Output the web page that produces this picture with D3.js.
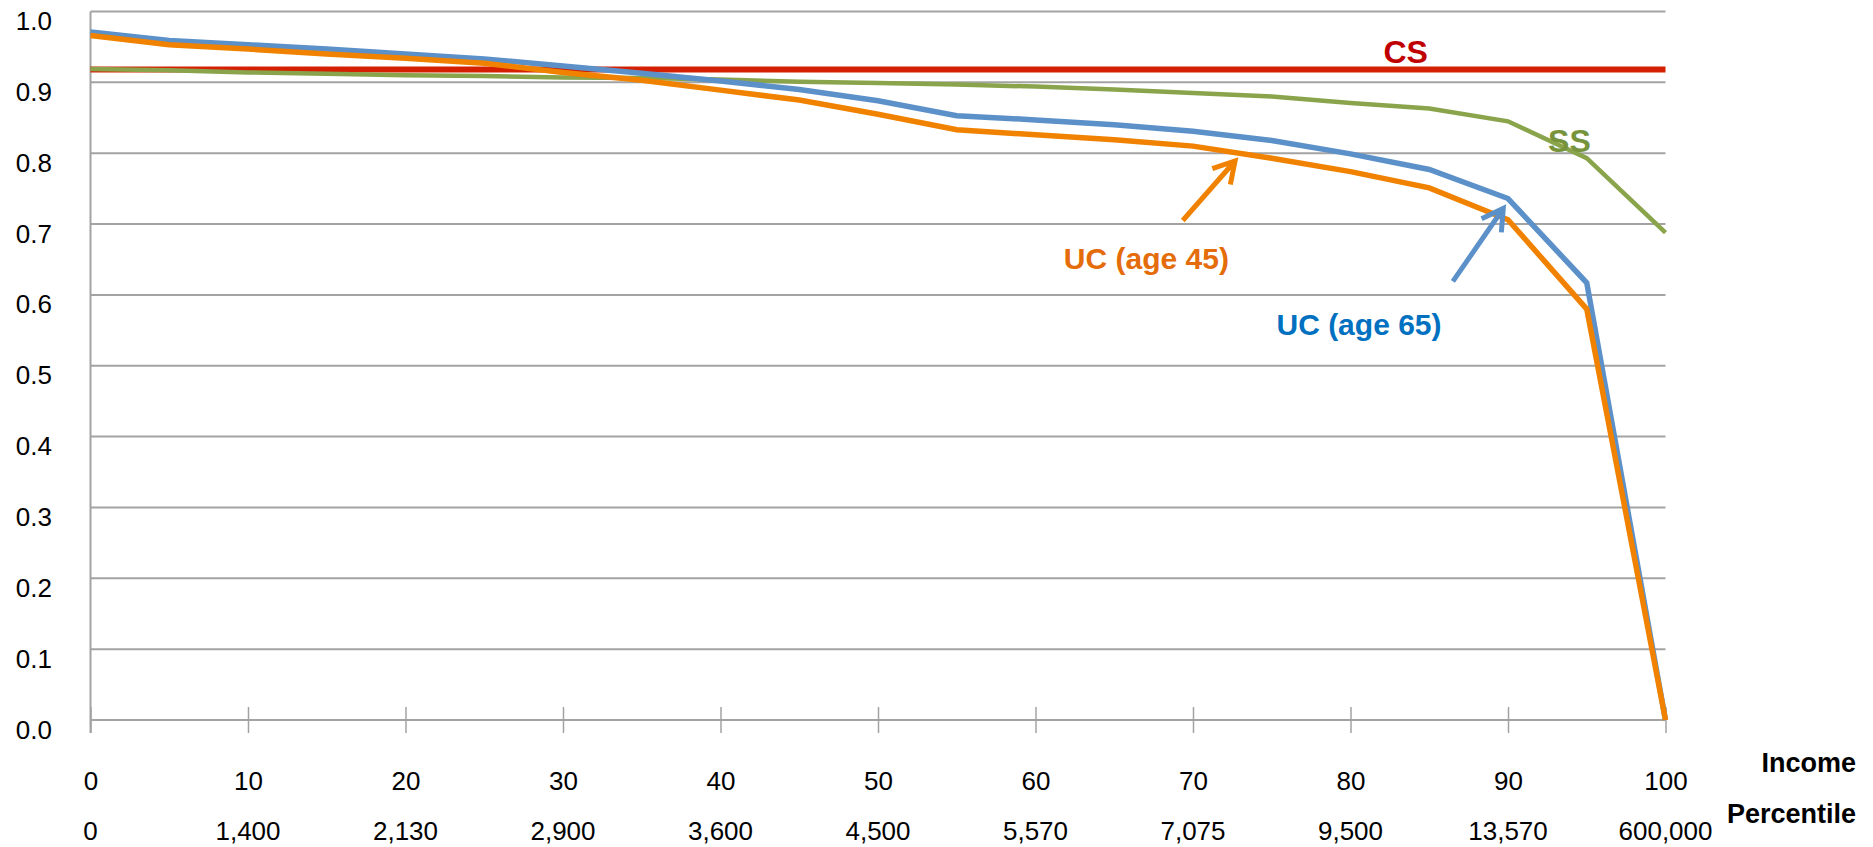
<!DOCTYPE html>
<html>
<head>
<meta charset="utf-8">
<script src="https://cdn.jsdelivr.net/npm/d3@7/dist/d3.min.js"></script>
<style>
  html, body { margin: 0; padding: 0; background: #fff; }
  svg { display: block; font-family: "Liberation Sans", Arial, sans-serif; }
</style>
</head>
<body>
<svg id="chart" width="1873" height="847"></svg>
<script>
// Income percentiles (x) and the matching income levels shown under each tick
const percentiles = [0, 5, 10, 15, 20, 25, 30, 35, 40, 45, 50, 55, 60, 65, 70, 75, 80, 85, 90, 95, 100];
const tickPercentiles = [0, 10, 20, 30, 40, 50, 60, 70, 80, 90, 100];
const incomeLabels = ["0", "1,400", "2,130", "2,900", "3,600", "4,500", "5,570", "7,075", "9,500", "13,570", "600,000"];
const yTicks = [0, 0.1, 0.2, 0.3, 0.4, 0.5, 0.6, 0.7, 0.8, 0.9, 1.0];

// Series values by percentile
const csValues = [0.918, 0.918, 0.918, 0.918, 0.918, 0.918, 0.918, 0.918, 0.918, 0.918, 0.918,
                  0.918, 0.918, 0.918, 0.918, 0.918, 0.918, 0.918, 0.918, 0.918, 0.918];
const ssValues = [0.919, 0.917, 0.914, 0.912, 0.910, 0.909, 0.907, 0.906, 0.904, 0.901, 0.899,
                  0.897, 0.894, 0.890, 0.885, 0.880, 0.871, 0.863, 0.845, 0.793, 0.688];
const uc65Values = [0.971, 0.959, 0.953, 0.947, 0.940, 0.933, 0.923, 0.913, 0.902, 0.890, 0.874,
                    0.853, 0.847, 0.840, 0.831, 0.818, 0.799, 0.777, 0.736, 0.617, 0.0];
const uc45Values = [0.966, 0.953, 0.947, 0.940, 0.934, 0.927, 0.914, 0.903, 0.889, 0.875, 0.855,
                    0.833, 0.826, 0.819, 0.810, 0.793, 0.774, 0.751, 0.706, 0.580, 0.0];

const svg = d3.select("#chart");
const x = d3.scaleLinear().domain([0, 100]).range([90.5, 1665.5]);
const y = d3.scaleLinear().domain([0, 1]).range([720, 11.5]);

const gridColor = "#a3a3a3";

// Horizontal gridlines
svg.append("g").selectAll("line")
  .data(yTicks.filter(d => d > 0))
  .join("line")
  .attr("x1", x(0)).attr("x2", x(100))
  .attr("y1", d => y(d)).attr("y2", d => y(d))
  .attr("stroke", gridColor).attr("stroke-width", 2);

// Y axis labels
const yAxis = d3.axisLeft(y).tickValues(yTicks).tickSize(0).tickPadding(0).tickFormat(d3.format(".1f"));
const gy = svg.append("g").attr("transform", "translate(52,0)").call(yAxis);
gy.select(".domain").remove();
gy.selectAll("text")
  .attr("font-family", "'Liberation Sans', Arial, sans-serif")
  .attr("font-size", 26).attr("fill", "#000")
  .attr("dy", null).attr("y", 18);

// Vertical axis line
svg.append("line")
  .attr("x1", x(0)).attr("x2", x(0))
  .attr("y1", y(1)).attr("y2", y(0) + 13)
  .attr("stroke", gridColor).attr("stroke-width", 2);

// X axis with crossing tick marks and percentile labels
const xAxis = d3.axisBottom(x).tickValues(tickPercentiles).tickSize(13).tickPadding(0).tickFormat(d3.format("d"));
const gx = svg.append("g").attr("transform", `translate(0,${y(0)})`).call(xAxis);
gx.select(".domain").attr("stroke", gridColor).attr("stroke-width", 2)
  .attr("d", `M${x(0)},0H${x(100)}`);
gx.selectAll(".tick line").attr("stroke", gridColor).attr("stroke-width", 1.5).attr("y1", -13);
gx.selectAll(".tick text")
  .attr("font-family", "'Liberation Sans', Arial, sans-serif")
  .attr("font-size", 26).attr("fill", "#000")
  .attr("dy", null).attr("y", 70);

// Second row: income level at each tick
svg.append("g").selectAll("text")
  .data(tickPercentiles)
  .join("text")
  .attr("x", d => x(d)).attr("y", 840)
  .attr("text-anchor", "middle")
  .attr("font-size", 26).attr("fill", "#000")
  .text((d, i) => incomeLabels[i]);

// Row titles at right
svg.append("text").attr("x", 1856).attr("y", 772).attr("text-anchor", "end")
  .attr("font-size", 27).attr("font-weight", "bold").attr("fill", "#000").text("Income");
svg.append("text").attr("x", 1856).attr("y", 823).attr("text-anchor", "end")
  .attr("font-size", 27).attr("font-weight", "bold").attr("fill", "#000").text("Percentile");

// Series lines
const series = [
  { name: "CS", values: csValues, color: "#d42000", width: 6 },
  { name: "SS", values: ssValues, color: "#8aa44c", width: 4.5 },
  { name: "UC (age 65)", values: uc65Values, color: "#5b90c9", width: 5.5 },
  { name: "UC (age 45)", values: uc45Values, color: "#f08200", width: 5.5 }
];
const line = d3.line().x((d, i) => x(percentiles[i])).y(d => y(d));
svg.append("g").selectAll("path")
  .data(series)
  .join("path")
  .attr("d", d => line(d.values))
  .attr("fill", "none")
  .attr("stroke", d => d.color)
  .attr("stroke-width", d => d.width)
  .attr("stroke-linejoin", "miter");

// Series labels, placed in data coordinates
const labels = [
  { text: "CS", p: 83.5, v: 0.927, anchor: "middle", color: "#c00000", size: 32 },
  { text: "SS", p: 93.9, v: 0.802, anchor: "middle", color: "#77933c", size: 32 },
  { text: "UC (age 45)", p: 61.8, v: 0.637, anchor: "start", color: "#e46c0a", size: 30 },
  { text: "UC (age 65)", p: 75.3, v: 0.543, anchor: "start", color: "#0070c0", size: 30 }
];
svg.append("g").selectAll("text")
  .data(labels)
  .join("text")
  .attr("x", d => x(d.p)).attr("y", d => y(d.v))
  .attr("text-anchor", d => d.anchor)
  .attr("font-size", d => d.size).attr("font-weight", "bold")
  .attr("fill", d => d.color)
  .text(d => d.text);

// Pointer arrows from labels to their curves
const arrows = [
  { from: [69.35, 0.705], to: [72.67, 0.789], color: "#f08200" },
  { from: [86.5, 0.619], to: [89.7, 0.722], color: "#5b90c9" }
];
const arrowG = svg.append("g");
arrows.forEach(a => {
  const x1 = x(a.from[0]), y1 = y(a.from[1]);
  const x2 = x(a.to[0]), y2 = y(a.to[1]);
  const ang = Math.atan2(y1 - y2, x1 - x2);
  const len = 24, spread = Math.PI / 6;
  const h1 = [x2 + len * Math.cos(ang + spread), y2 + len * Math.sin(ang + spread)];
  const h2 = [x2 + len * Math.cos(ang - spread), y2 + len * Math.sin(ang - spread)];
  arrowG.append("path")
    .attr("d", `M${x1},${y1}L${x2},${y2}M${h1[0]},${h1[1]}L${x2},${y2}L${h2[0]},${h2[1]}`)
    .attr("fill", "none").attr("stroke", a.color)
    .attr("stroke-width", 5).attr("stroke-linejoin", "miter");
});
</script>
</body>
</html>
